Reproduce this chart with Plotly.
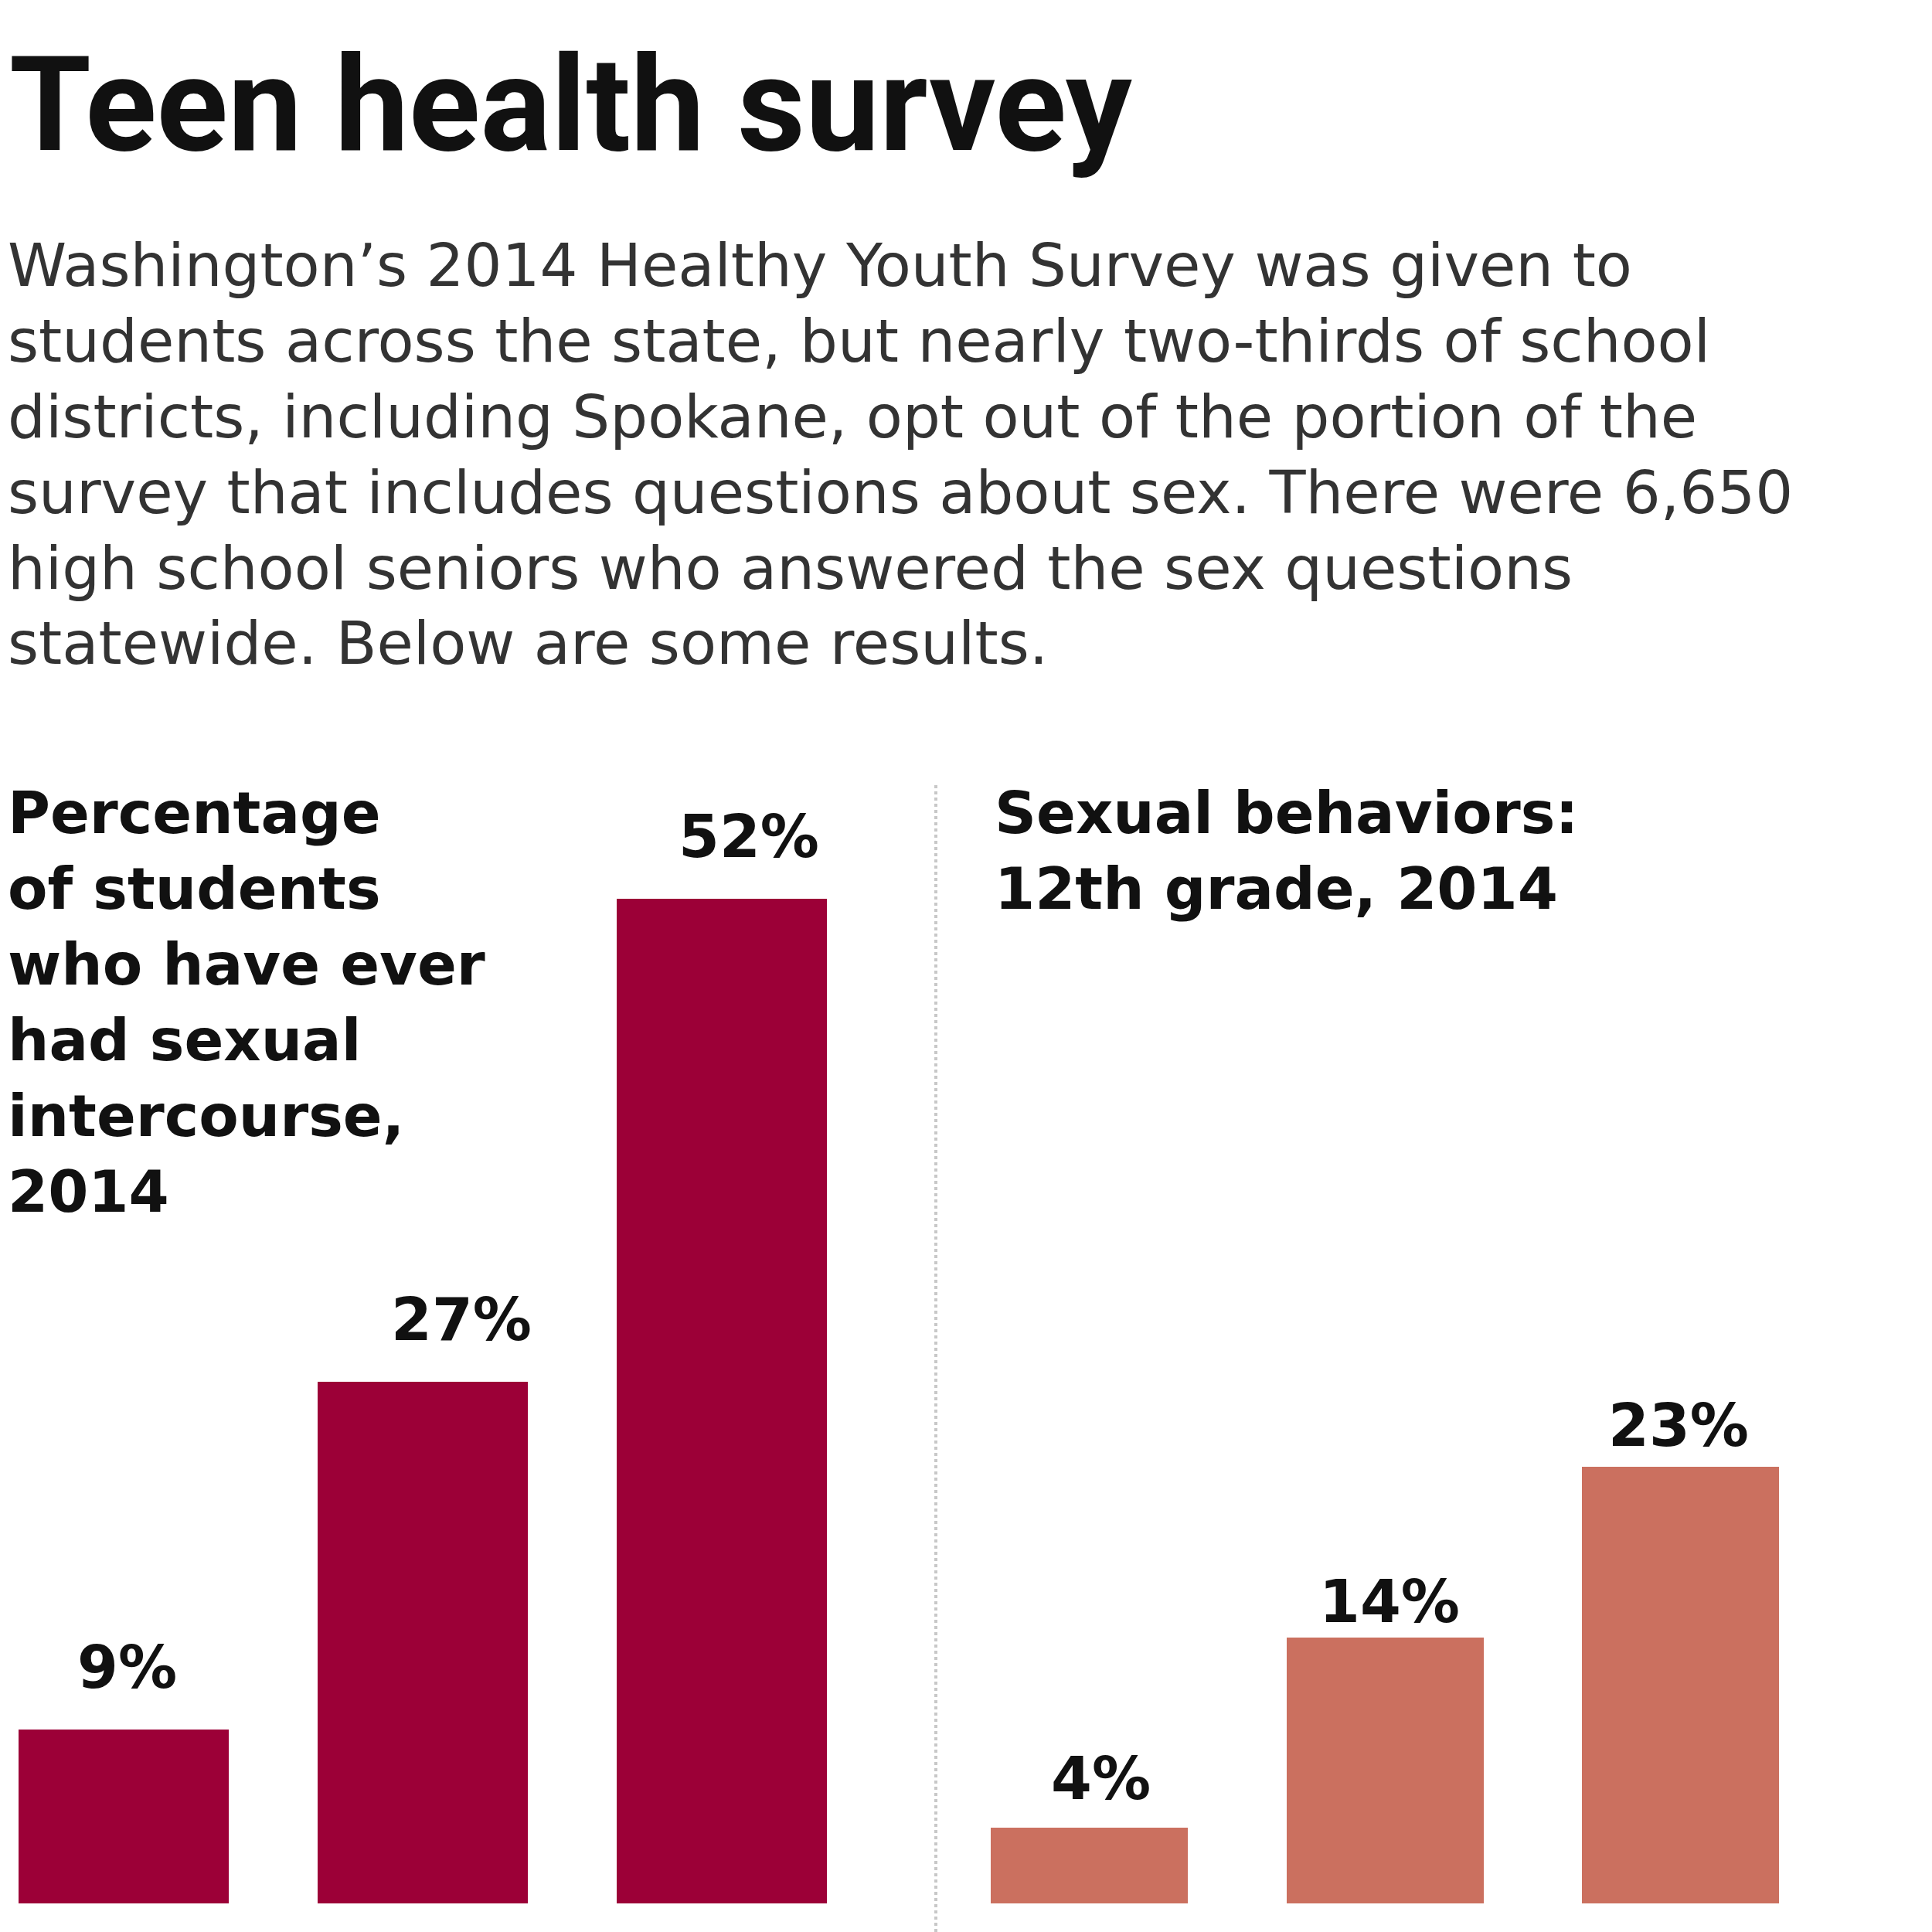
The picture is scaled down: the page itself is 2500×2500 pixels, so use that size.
import plotly.graph_objects as go

# ---- data ----
left_categories = ["8th grade", "10th grade", "12th grade"]
left_values = [9, 27, 52]
left_labels = ["9%", "27%", "52%"]

right_categories = ["Behavior A", "Behavior B", "Behavior C"]
right_values = [4, 14, 23]
right_labels = ["4%", "14%", "23%"]

title_text = "Teen health survey"
body_lines = [
    "Washington\u2019s 2014 Healthy Youth Survey was given to",
    "students across the state, but nearly two-thirds of school",
    "districts, including Spokane, opt out of the portion of the",
    "survey that includes questions about sex. There were 6,650",
    "high school seniors who answered the sex questions",
    "statewide. Below are some results.",
]
left_title_lines = ["Percentage", "of students", "who have ever", "had sexual", "intercourse,", "2014"]
right_title_lines = ["Sexual behaviors:", "12th grade, 2014"]

# ---- style ----
LEFT_COLOR = "#9c0037"
RIGHT_COLOR = "#cb705f"
W = H = 2500
LINE_STEP = 98          # px between text lines
left_label_xshift = [5, 50, 35]
left_label_yshift = [34, 34, 34]
right_label_xshift = [15, 6, -3]
right_label_yshift = [17, 0, 7]

fig = go.Figure()
fig.add_trace(go.Bar(x=left_categories, y=left_values, marker=dict(color=LEFT_COLOR, line=dict(width=0)),
                     width=0.703, xaxis="x", yaxis="y", hoverinfo="skip"))
fig.add_trace(go.Bar(x=right_categories, y=right_values, marker=dict(color=RIGHT_COLOR, line=dict(width=0)),
                     width=0.667, xaxis="x2", yaxis="y2", hoverinfo="skip"))

label_font = dict(family="DejaVu Sans, sans-serif", size=76, color="#111111", weight=700)
annotations = []
for c, v, t, dx, dy in zip(left_categories, left_values, left_labels, left_label_xshift, left_label_yshift):
    annotations.append(dict(x=c, y=v, xref="x", yref="y", text=t, showarrow=False,
                            yanchor="bottom", xanchor="center", yshift=dy, xshift=dx, font=label_font))
for c, v, t, dx, dy in zip(right_categories, right_values, right_labels, right_label_xshift, right_label_yshift):
    annotations.append(dict(x=c, y=v, xref="x2", yref="y2", text=t, showarrow=False,
                            yanchor="bottom", xanchor="center", yshift=dy, xshift=dx, font=label_font))

annotations.append(dict(x=10 / W, y=1 - 135 / H, xref="paper", yref="paper", text=title_text,
                        showarrow=False, xanchor="left", yanchor="middle", align="left",
                        font=dict(family="Roboto, sans-serif", size=171, color="#111111", weight=700)))


def add_lines(lines, x_px, first_center_px, font):
    for i, line in enumerate(lines):
        annotations.append(dict(x=x_px / W, y=1 - (first_center_px + i * LINE_STEP) / H,
                                xref="paper", yref="paper", text=line, showarrow=False,
                                xanchor="left", yanchor="middle", align="left", font=font))


add_lines(body_lines, 8, 343, dict(family="DejaVu Sans, sans-serif", size=77, color="#333333"))
sub_font = dict(family="DejaVu Sans, sans-serif", size=75, color="#111111", weight=700)
add_lines(left_title_lines, 8, 1052, sub_font)
add_lines(right_title_lines, 1285, 1052, sub_font)

axis_common = dict(showgrid=False, zeroline=False, showticklabels=False, ticks="", showline=False, fixedrange=True)
fig.update_layout(
    width=W, height=H,
    margin=dict(l=0, r=0, t=0, b=0),
    paper_bgcolor="white", plot_bgcolor="white",
    showlegend=False,
    bargap=0,
    xaxis=dict(domain=[0, 0.47], range=[-0.4134, 2.6227], type="category", **axis_common),
    yaxis=dict(domain=[0, 1], range=[-1.48, 98.52], anchor="x", **axis_common),
    xaxis2=dict(domain=[0.5, 1], range=[-0.418, 2.850], type="category", anchor="y2", **axis_common),
    yaxis2=dict(domain=[0, 1], range=[-1.507, 100.33], anchor="x2", **axis_common),
    annotations=annotations,
    shapes=[dict(type="line", xref="paper", yref="paper", x0=1211 / W, x1=1211 / W, y0=0, y1=1 - 1015 / H,
                 line=dict(color="#c8c8c8", width=4, dash="dot"))],
)

fig.write_html("out.html", post_script="document.body.style.margin='0';",
               config={"displayModeBar": False})
